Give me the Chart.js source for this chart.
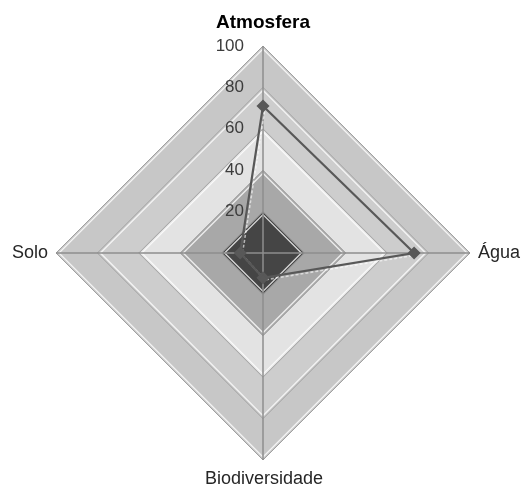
<!DOCTYPE html>
<html>
<head>
<meta charset="utf-8">
<script src="https://cdn.jsdelivr.net/npm/chart.js@4/dist/chart.umd.min.js"></script>
<style>
  html, body { margin: 0; padding: 0; background: #ffffff; }
  #wrap { width: 523px; height: 488px; }
</style>
</head>
<body>
<div id="wrap"><canvas id="radar" width="523" height="488"></canvas></div>
<script>
// Categories (clockwise from the top) and the series values
const categories = ['Atmosfera', 'Água', 'Biodiversidade', 'Solo'];
const values = [71, 73, 12, 11];
const tickValues = [20, 40, 60, 80, 100];

// Fill of each ring, from the centre outwards
const ringFills = ['#454545', '#a8a8a8', '#e3e3e3', '#cdcdcd', '#c7c7c7'];

const FONT = '"Liberation Sans", Arial, sans-serif';

function diamondPath(ctx, scale, value) {
  ctx.beginPath();
  for (let i = 0; i < categories.length; i++) {
    const p = scale.getPointPositionForValue(i, value);
    if (i === 0) ctx.moveTo(p.x, p.y); else ctx.lineTo(p.x, p.y);
  }
  ctx.closePath();
}

// Shaded rings behind the grid, with a light bevel just inside each ring edge
const ringPlugin = {
  id: 'rings',
  beforeDraw(chart) {
    const scale = chart.scales.r;
    const ctx = chart.ctx;
    ctx.save();
    for (let k = tickValues.length - 1; k >= 0; k--) {
      diamondPath(ctx, scale, tickValues[k]);
      ctx.fillStyle = ringFills[k];
      ctx.fill();
    }
    const inset = 3 * 100 / scale.drawingArea;
    ctx.strokeStyle = 'rgba(255,255,255,0.8)';
    ctx.lineWidth = 1.3;
    for (let k = 0; k < tickValues.length; k++) {
      diamondPath(ctx, scale, tickValues[k] - inset);
      ctx.stroke();
    }
    ctx.restore();
  }
};

// Light shadow line offset under the series, visible over the darker rings
const glowPlugin = {
  id: 'lineGlow',
  beforeDatasetsDraw(chart) {
    const ctx = chart.ctx;
    const pts = chart.getDatasetMeta(0).data;
    ctx.save();
    ctx.strokeStyle = 'rgba(255,255,255,0.6)';
    ctx.lineWidth = 1.6;
    ctx.setLineDash([3, 2]);
    ctx.beginPath();
    pts.forEach((p, i) => {
      if (i === 0) ctx.moveTo(p.x + 2, p.y + 2); else ctx.lineTo(p.x + 2, p.y + 2);
    });
    ctx.closePath();
    ctx.stroke();
    ctx.restore();
  }
};

// Axis names and the radial tick numbers
const labelPlugin = {
  id: 'axisText',
  afterDraw(chart) {
    const scale = chart.scales.r;
    const ctx = chart.ctx;
    const cx = scale.xCenter, cy = scale.yCenter, r = scale.drawingArea;
    ctx.save();

    ctx.fillStyle = '#3c3c3c';
    ctx.font = '17px ' + FONT;
    ctx.textAlign = 'right';
    ctx.textBaseline = 'middle';
    tickValues.forEach((v) => {
      const y = cy - scale.getDistanceFromCenterForValue(v);
      ctx.fillText(String(v), cx - 19, y);
    });

    ctx.fillStyle = '#000000';
    const top = scale.getPointPosition(0, r);
    ctx.font = 'bold 19px ' + FONT;
    ctx.textAlign = 'center';
    ctx.textBaseline = 'alphabetic';
    ctx.fillText(categories[0], top.x, top.y - 18);

    ctx.fillStyle = '#262626';
    ctx.font = '18px ' + FONT;
    const right = scale.getPointPosition(1, r);
    ctx.textAlign = 'left';
    ctx.textBaseline = 'middle';
    ctx.fillText(categories[1], right.x + 8, right.y);

    const bottom = scale.getPointPosition(2, r);
    ctx.textAlign = 'center';
    ctx.textBaseline = 'alphabetic';
    ctx.fillText(categories[2], bottom.x + 1, bottom.y + 24);

    const left = scale.getPointPosition(3, r);
    ctx.textAlign = 'right';
    ctx.textBaseline = 'middle';
    ctx.fillText(categories[3], left.x - 8, left.y);

    ctx.restore();
  }
};

new Chart(document.getElementById('radar'), {
  type: 'radar',
  data: {
    labels: categories,
    datasets: [
      {
        label: 'Série 1',
        data: values,
        borderColor: '#585858',
        borderWidth: 2.2,
        backgroundColor: 'transparent',
        fill: false,
        pointStyle: 'rectRot',
        pointRadius: 5,
        pointBackgroundColor: '#585858',
        pointBorderColor: '#585858'
      }
    ]
  },
  options: {
    responsive: false,
    animation: false,
    devicePixelRatio: 1,
    layout: { padding: { left: 55, right: 52, top: 46, bottom: 27 } },
    plugins: {
      legend: { display: false },
      tooltip: { enabled: false }
    },
    elements: { line: { tension: 0 } },
    scales: {
      r: {
        min: 0,
        max: 100,
        ticks: { stepSize: 20, display: false },
        grid: { color: '#a0a0a0', lineWidth: 1 },
        angleLines: { color: '#8e8e8e', lineWidth: 1.5 },
        pointLabels: { display: false }
      }
    }
  },
  plugins: [ringPlugin, glowPlugin, labelPlugin]
});
</script>
</body>
</html>
